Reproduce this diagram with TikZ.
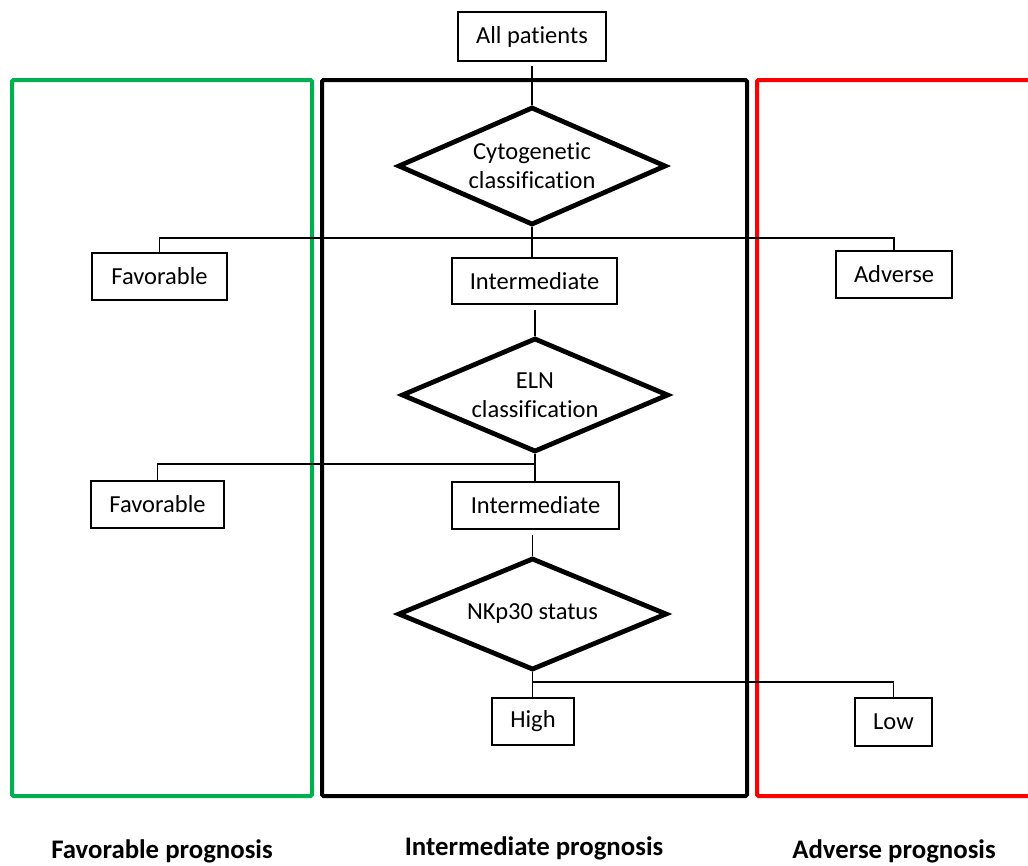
\documentclass[tikz,border=0pt]{standalone}
\usepackage{fontspec}
\setmainfont{Carlito}[Ligatures=NoCommon]
\usetikzlibrary{shapes.geometric}
\definecolor{pgreen}{RGB}{0,176,80}
\definecolor{pred}{RGB}{255,0,0}
\tikzset{
  panel/.style={line width=4pt, rounded corners=1.5pt},
  box/.style={draw, line width=1.7pt, rectangle, inner sep=0pt, font=\fontsize{24.5}{29}\selectfont},
  decision/.style={draw, line width=4.8pt, diamond, aspect=2.27, inner sep=0pt, align=center, font=\fontsize{24.5}{29}\selectfont},
  conn/.style={line width=1.7pt},
  plabel/.style={anchor=base, inner sep=0pt, font=\fontsize{26.8}{30}\selectfont\bfseries}
}
\begin{document}
\begin{tikzpicture}[x=1pt,y=-1pt]
\useasboundingbox (0,0) rectangle (1028,865);
\clip (0,0) rectangle (1028,865);
% panels
\draw[panel, pgreen] (12,80) rectangle (312,796);
\draw[panel, black] (322,80) rectangle (747,796);
\draw[panel, pred] (757,80) rectangle (1040,796);
% nodes
\node[box, minimum width=148pt, minimum height=49pt] (all) at (532,36.5) {All patients};
\node[decision, minimum width=268pt, minimum height=118pt] (d1) at (532,166) {Cytogenetic\\classification};
\node[box, minimum width=135pt, minimum height=47pt] (fav1) at (159.5,276.5) {Favorable};
\node[box, minimum width=165pt, minimum height=46pt] (int1) at (534.5,281) {Intermediate};
\node[box, minimum width=116pt, minimum height=47pt] (adv) at (894,274.5) {Adverse};
\node[decision, minimum width=267pt, minimum height=114pt] (d2) at (535,395) {ELN\\classification};
\node[box, minimum width=133pt, minimum height=47pt] (fav2) at (157.5,504.5) {Favorable};
\node[box, minimum width=167pt, minimum height=47pt] (int2) at (535.5,505.5) {Intermediate};
\node[decision, minimum width=269pt, minimum height=112pt] (d3) at (532.5,614) {NKp30 status};
\node[box, minimum width=82pt, minimum height=47pt] (high) at (533,721.5) {High};
\node[box, minimum width=77pt, minimum height=48pt] (low) at (893.5,722) {Low};
% junctions
\coordinate (j1) at (532,238);
\coordinate (j2) at (534,464);
\coordinate (j3) at (533,682);
% connectors
\draw[conn, shorten <=4pt] (all.south) -- (d1.north);
\draw[conn] (d1.south) -- (d1.south |- int1.north);
\draw[conn] (fav1.north) |- (j1) -| (adv.north);
\draw[conn, shorten <=5pt] (int1.south -| d2.north) -- (d2.north);
\draw[conn] (d2.south) -- (d2.south |- int2.north);
\draw[conn] (fav2.north) |- (j2);
\draw[conn, shorten <=5pt] (int2.south -| d3.north) -- (d3.north);
\draw[conn] (d3.south) -- (d3.south |- high.north);
\draw[conn] (j3) -| (low.north);
% labels
\node[plabel] (lfav) at (162,858) {Favorable prognosis};
\node[plabel] (lint) at (534,855) {Intermediate prognosis};
\node[plabel] (ladv) at (894,858) {Adverse prognosis};
\end{tikzpicture}
\end{document}
